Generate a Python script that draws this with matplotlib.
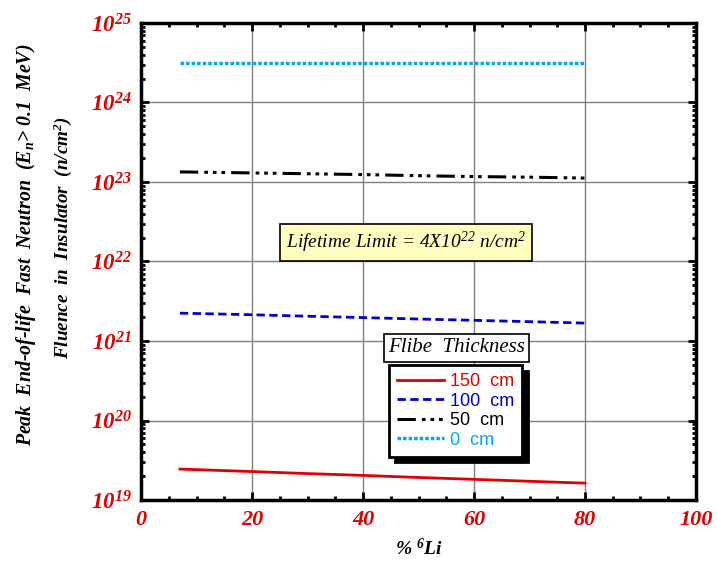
import numpy as np
import matplotlib
matplotlib.use("Agg")
import matplotlib.pyplot as plt
from matplotlib.ticker import FixedLocator, LogLocator, NullFormatter, MultipleLocator

plt.rcParams["mathtext.fontset"] = "custom"
plt.rcParams["mathtext.rm"] = "Liberation Serif:italic"
plt.rcParams["mathtext.it"] = "Liberation Serif:italic"
plt.rcParams["mathtext.bf"] = "Liberation Serif:bold:italic"

# % 6Li enrichment
li6 = [7, 20, 30, 40, 50, 60, 70, 80]
# peak fluence (n/cm2) per flibe thickness
fl_150 = [2.45e19, 2.28e19, 2.15e19, 2.04e19, 1.92e19, 1.82e19, 1.72e19, 1.63e19]
fl_100 = [2.24e21, 2.14e21, 2.05e21, 1.97e21, 1.89e21, 1.82e21, 1.75e21, 1.68e21]
fl_50 = [1.34e23, 1.3e23, 1.27e23, 1.24e23, 1.2e23, 1.17e23, 1.15e23, 1.12e23]
fl_0 = [3.15e24] * 8

x_ticks = [0, 20, 40, 60, 80, 100]
y_exps = [19, 20, 21, 22, 23, 24, 25]

fig = plt.figure(figsize=(7.17, 5.62), dpi=100)
ax = fig.add_axes([0.1967, 0.1103, 0.774, 0.8488])

ax.plot(li6, fl_150, color="#e00000", lw=2, ls="-", label="150  cm")
ax.plot(li6, fl_100, color="#0000cc", lw=2, ls=(0, (3, 1.6)), label="100  cm")
ax.plot(li6, fl_50, color="black", lw=2.2, ls=(0, (6, 2, 1.2, 1.6, 1.2, 1.6, 1.2, 2)), label="50  cm")
ax.plot(li6, fl_0, color="#00aaee", lw=2.5, ls=(0, (1, 0.6)), label="0  cm")

ax.set_yscale("log")
ax.set_xlim(0, 100)
ax.set_ylim(1e19, 1e25)

ax.xaxis.set_major_locator(FixedLocator(x_ticks))
ax.xaxis.set_minor_locator(MultipleLocator(5))
ax.set_xticklabels([str(v) for v in x_ticks], color="#e00000", fontsize=16,
                   family="Liberation Serif", fontweight="bold", fontstyle="italic")
ax.yaxis.set_major_locator(FixedLocator([10.0 ** e for e in y_exps]))
ax.yaxis.set_minor_locator(LogLocator(base=10, subs=np.arange(2, 10)))
ax.yaxis.set_minor_formatter(NullFormatter())
ax.set_yticklabels([r"$\mathbf{10^{%d}}$" % e for e in y_exps], color="#e00000", fontsize=16.5)

ax.tick_params(which="both", direction="in", top=True, right=True, width=2)
ax.tick_params(which="major", length=6, pad=7)
ax.tick_params(which="minor", length=3)
for s in ax.spines.values():
    s.set_linewidth(2.5)

ax.grid(True, which="major", color="gray", lw=1)

ax.set_xlabel(r"% $\mathbf{^6}$Li", family="Liberation Serif", fontweight="bold",
              fontstyle="italic", fontsize=14, labelpad=6)

fig.text(0.036, 0.565, r"Peak  End-of-life  Fast  Neutron  (E$_{\mathbf{n}}$> 0.1  MeV)",
         rotation=90, ha="center", va="center", family="Liberation Serif",
         fontweight="bold", fontstyle="italic", fontsize=14.3)
fig.text(0.088, 0.578, r"Fluence  in  Insulator  (n/cm$^{\mathbf{2}}$)",
         rotation=90, ha="center", va="center", family="Liberation Serif",
         fontweight="bold", fontstyle="italic", fontsize=13.8)

ax.text(0.477, 0.539, r"Lifetime Limit = 4X10$^{22}$ n/cm$^{2}$", transform=ax.transAxes,
        ha="center", va="center", family="Liberation Serif", fontstyle="italic", fontsize=14,
        bbox=dict(boxstyle="square,pad=0.3", facecolor="#ffffc0", edgecolor="black", lw=1.2))

ax.text(0.569, 0.3187, "Flibe  Thickness", transform=ax.transAxes,
        ha="center", va="center", family="Liberation Serif", fontstyle="italic", fontsize=15,
        bbox=dict(boxstyle="square,pad=0.2", facecolor="white", edgecolor="black", lw=1.2))

leg = ax.legend(loc="upper left", bbox_to_anchor=(0.447, 0.283), frameon=True,
                fancybox=False, edgecolor="black", framealpha=1,
                shadow={"ox": 4, "oy": -4, "facecolor": "black", "edgecolor": "black", "alpha": 1},
                prop={"family": "Liberation Sans", "size": 13}, handlelength=2.6,
                labelcolor=["#e00000", "#0000cc", "black", "#00aaee"],
                borderpad=0.45, labelspacing=0.14, handletextpad=0.3, borderaxespad=0)
leg.get_frame().set_linewidth(2)

fig.savefig("out.png", dpi=100)
